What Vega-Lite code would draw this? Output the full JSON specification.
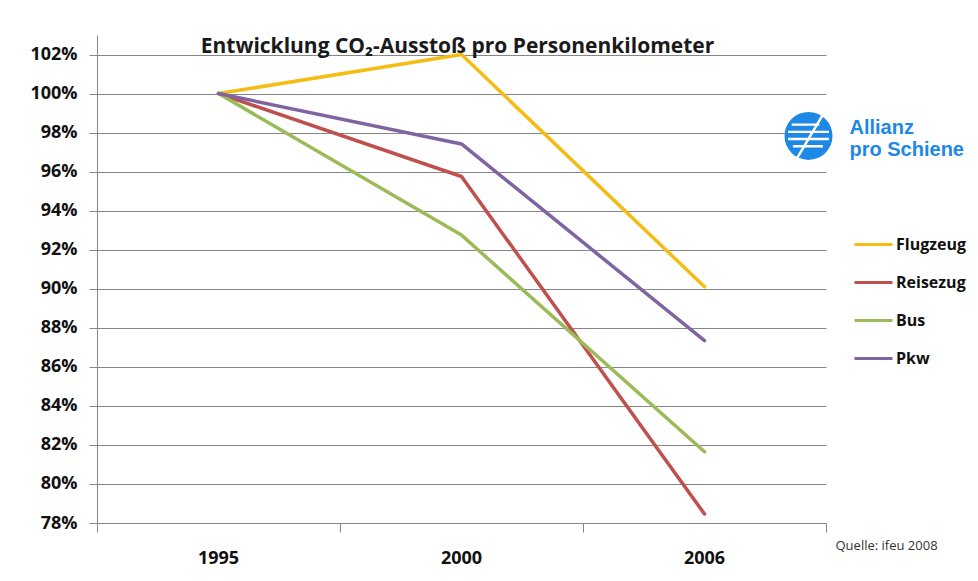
{
  "$schema": "https://vega.github.io/schema/vega-lite/v6.json",
  "width": 729,
  "height": 488,
  "autosize": {"type": "none"},
  "padding": {"left": 97, "top": 35, "right": 152, "bottom": 58},
  "background": "white",
  "config": {"view": {"stroke": null}, "font": "Open Sans"},
  "title": {
    "text": "Entwicklung CO₂-Ausstoß pro Personenkilometer",
    "font": "Open Sans",
    "fontSize": 21,
    "fontWeight": "bold",
    "color": "#1a1a1a",
    "anchor": "middle",
    "offset": -22,
    "dx": -4
  },
  "datasets": {
    "series": [
      {"Jahr": "1995", "Verkehrsmittel": "Flugzeug", "Wert": 1.0},
      {"Jahr": "2000", "Verkehrsmittel": "Flugzeug", "Wert": 1.02},
      {"Jahr": "2006", "Verkehrsmittel": "Flugzeug", "Wert": 0.901},
      {"Jahr": "1995", "Verkehrsmittel": "Reisezug", "Wert": 1.0},
      {"Jahr": "2000", "Verkehrsmittel": "Reisezug", "Wert": 0.9575},
      {"Jahr": "2006", "Verkehrsmittel": "Reisezug", "Wert": 0.7846},
      {"Jahr": "1995", "Verkehrsmittel": "Bus", "Wert": 1.0},
      {"Jahr": "2000", "Verkehrsmittel": "Bus", "Wert": 0.9275},
      {"Jahr": "2006", "Verkehrsmittel": "Bus", "Wert": 0.8165},
      {"Jahr": "1995", "Verkehrsmittel": "Pkw", "Wert": 1.0},
      {"Jahr": "2000", "Verkehrsmittel": "Pkw", "Wert": 0.9742},
      {"Jahr": "2006", "Verkehrsmittel": "Pkw", "Wert": 0.8734}
    ],
    "logo": [{"Jahr": "2006", "Wert": 0.9783}]
  },
  "layer": [
    {
      "data": {"name": "series"},
      "mark": {"type": "line", "strokeWidth": 3.5, "strokeCap": "round", "strokeJoin": "round", "clip": false},
      "encoding": {
        "x": {
          "field": "Jahr",
          "type": "ordinal",
          "scale": {"type": "band", "paddingInner": 0, "paddingOuter": 0},
          "axis": {
            "title": "Quelle: ifeu 2008",
            "titleX": 738,
            "titleY": 22,
            "titleAlign": "left",
            "titleBaseline": "middle",
            "titleFont": "Open Sans",
            "titleFontSize": 13,
            "titleFontWeight": "normal",
            "titleColor": "#333333",
            "labelAngle": 0,
            "labelFont": "Open Sans",
            "labelFontSize": 18,
            "labelFontWeight": "bold",
            "labelColor": "#111111",
            "labelPadding": 17,
            "tickSize": 9,
            "tickColor": "#868686",
            "domainColor": "#868686",
            "bandPosition": 1,
            "tickExtra": true,
            "grid": false
          }
        },
        "y": {
          "field": "Wert",
          "type": "quantitative",
          "scale": {"domain": [0.78, 1.03], "nice": false, "zero": false},
          "axis": {
            "title": null,
            "values": [0.78, 0.8, 0.82, 0.84, 0.86, 0.88, 0.9, 0.92, 0.94, 0.96, 0.98, 1.0, 1.02],
            "format": ".0%",
            "labelFont": "Open Sans",
            "labelFontSize": 18,
            "labelFontWeight": "bold",
            "labelColor": "#111111",
            "labelPadding": 12,
            "tickSize": 8,
            "tickColor": "#868686",
            "domainColor": "#868686",
            "grid": true,
            "gridColor": "#868686",
            "gridWidth": 1
          }
        },
        "color": {
          "field": "Verkehrsmittel",
          "type": "nominal",
          "scale": {
            "domain": ["Flugzeug", "Reisezug", "Bus", "Pkw"],
            "range": ["#F5BC14", "#C0504D", "#9BBB59", "#8064A2"]
          },
          "legend": {
            "title": null,
            "orient": "none",
            "legendX": 756,
            "legendY": 189,
            "padding": 0,
            "symbolType": "stroke",
            "symbolSize": 1444,
            "symbolStrokeWidth": 3,
            "rowPadding": 9,
            "labelFont": "Open Sans",
            "labelFontSize": 16,
            "labelFontWeight": "bold",
            "labelColor": "#111111",
            "labelOffset": 2
          }
        }
      }
    },
    {
      "data": {"name": "logo"},
      "mark": {"type": "point", "shape": "circle", "filled": true, "size": 2304, "color": "#1E88E5", "opacity": 1, "xOffset": 104, "clip": false},
      "encoding": {
        "x": {"field": "Jahr", "type": "ordinal"},
        "y": {"field": "Wert", "type": "quantitative"}
      }
    },
    {
      "data": {"name": "logo"},
      "mark": {
        "type": "point",
        "shape": "M-0.7,-0.52H0.45V-0.42H-0.7Z M-0.85,-0.22H0.85V-0.12H-0.85Z M-0.85,0.08H0.85V0.18H-0.85Z M-0.65,0.38H0.6V0.48H-0.65Z M-0.55,0.95L0.58,-0.95L0.7,-0.95L-0.43,0.95Z",
        "filled": true,
        "size": 2304,
        "color": "white",
        "opacity": 1,
        "xOffset": 104,
        "clip": false
      },
      "encoding": {
        "x": {"field": "Jahr", "type": "ordinal"},
        "y": {"field": "Wert", "type": "quantitative"}
      }
    },
    {
      "data": {"name": "logo"},
      "mark": {
        "type": "text",
        "text": "Allianz",
        "font": "Liberation Sans",
        "fontSize": 20,
        "fontWeight": "bold",
        "color": "#1E88E5",
        "align": "left",
        "baseline": "alphabetic",
        "dx": 145,
        "dy": -2,
        "clip": false
      },
      "encoding": {
        "x": {"field": "Jahr", "type": "ordinal"},
        "y": {"field": "Wert", "type": "quantitative"}
      }
    },
    {
      "data": {"name": "logo"},
      "mark": {
        "type": "text",
        "text": "pro Schiene",
        "font": "Liberation Sans",
        "fontSize": 20,
        "fontWeight": "bold",
        "color": "#1E88E5",
        "align": "left",
        "baseline": "alphabetic",
        "dx": 145,
        "dy": 20,
        "clip": false
      },
      "encoding": {
        "x": {"field": "Jahr", "type": "ordinal"},
        "y": {"field": "Wert", "type": "quantitative"}
      }
    }
  ]
}
